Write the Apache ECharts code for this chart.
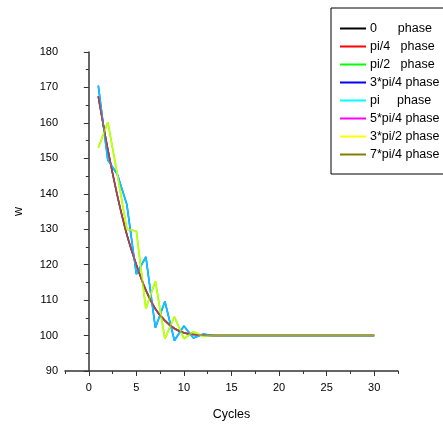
<!DOCTYPE html>
<html><head><meta charset="utf-8">
<script src="https://cdn.jsdelivr.net/npm/echarts@6/dist/echarts.min.js"></script>
<style>html,body{margin:0;padding:0;background:#fff}#c{width:443px;height:426px}</style>
</head><body><div id="c"></div>
<script>
const cycles = [1,2,3,4,5,6,7,8,9,10,11,12,13,14,15,16,17,18,19,20,21,22,23,24,25,26,27,28,29,30];
const smoothCurve = [167.5,152.5,139.5,128.5,120,112.8,107.5,104.2,102,100.8,100.3,100.1,100,100,100,100,100,100,100,100,100,100,100,100,100,100,100,100,100,100];
const zigzagPi = [170.5,149.5,145.5,137,117.3,122.2,102.2,109.6,98.6,102.7,99.3,100.4,100,100,100,100,100,100,100,100,100,100,100,100,100,100,100,100,100,100];
const zigzag3Pi2 = [153,160.2,145.5,130,129.5,107.6,115.3,99.1,105.3,99.1,101.1,99.8,100,100,100,100,100,100,100,100,100,100,100,100,100,100,100,100,100,100];
const seriesNames = ['0      phase','pi/4   phase','pi/2   phase','3*pi/4 phase','pi     phase','5*pi/4 phase','3*pi/2 phase','7*pi/4 phase'];
const seriesValues = [smoothCurve, smoothCurve, zigzag3Pi2, zigzagPi, zigzagPi, smoothCurve, zigzag3Pi2, smoothCurve];
const seriesColors = ['#000000','#ff0000','#00ff00','#0000ff','#00ffff','#ff00ff','#ffff00','#808000'];
const seriesOpacity = [1,0.3,1,1,0.8,0.65,0.8,0.58];
const xMajorTicks = [0,5,10,15,20,25,30];
const xMinorTicks = [-2.5,2.5,7.5,12.5,17.5,22.5,27.5,32.5];

const font = 'Liberation Sans, Arial, sans-serif';
const chart = echarts.init(document.getElementById('c'), null, {renderer:'canvas'});
chart.setOption({
  animation: false,
  backgroundColor: '#fff',
  textStyle: {fontFamily: font, color: '#000'},
  grid: {left: 65, right: 45, top: 52, bottom: 49},
  legend: {
    orient: 'vertical', left: 331, top: 8,
    padding: [14, 30, 13, 8],
    itemWidth: 26, itemHeight: 14, itemGap: 5,
    borderColor: '#000', borderWidth: 1, backgroundColor: '#fff',
    itemStyle: {opacity: 0},
    lineStyle: {opacity: 1, width: 2},
    textStyle: {fontFamily: font, fontSize: 12.5, color: '#000', padding: [0,0,0,-1]},
    data: seriesNames
  },
  xAxis: [{
    type: 'value', min: -2.5, max: 32.5,
    name: 'Cycles', nameLocation: 'middle', nameGap: 37,
    nameTextStyle: {fontFamily: font, fontSize: 12.5, color: '#000'},
    axisLine: {show: true, lineStyle: {color: '#333', width: 1.5}},
    axisTick: {show: true, length: 5, customValues: xMajorTicks, lineStyle: {color: '#333', width: 1}},
    axisLabel: {customValues: xMajorTicks, fontSize: 11, color: '#000', margin: 11, fontFamily: font},
    splitLine: {show: false}
  }, {
    type: 'value', min: -2.5, max: 32.5, position: 'bottom',
    axisLine: {show: false},
    axisTick: {show: true, length: 3, customValues: xMinorTicks, lineStyle: {color: '#333', width: 1}},
    axisLabel: {show: false},
    splitLine: {show: false}
  }],
  yAxis: {
    type: 'value', min: 90, max: 180, interval: 10,
    name: 'w', nameLocation: 'middle', nameGap: 40, nameRotate: 90,
    nameTextStyle: {fontFamily: font, fontSize: 12.5, color: '#000'},
    axisLine: {show: true, lineStyle: {color: '#333', width: 1.5}},
    axisTick: {show: true, length: 5, lineStyle: {color: '#333', width: 1}},
    minorTick: {show: true, splitNumber: 2, length: 3, lineStyle: {color: '#333', width: 1}},
    axisLabel: {fontSize: 11, color: '#000', margin: 7, fontFamily: font},
    splitLine: {show: false}
  },
  series: seriesNames.map((n, i) => ({
    name: n, type: 'line', xAxisIndex: 0,
    data: cycles.map((c, k) => [c, seriesValues[i][k]]),
    symbol: 'none',
    smooth: seriesValues[i] === smoothCurve ? 0.3 : false,
    color: seriesColors[i],
    lineStyle: {color: seriesColors[i], width: 1.6, opacity: seriesOpacity[i]}
  }))
});
</script></body></html>
